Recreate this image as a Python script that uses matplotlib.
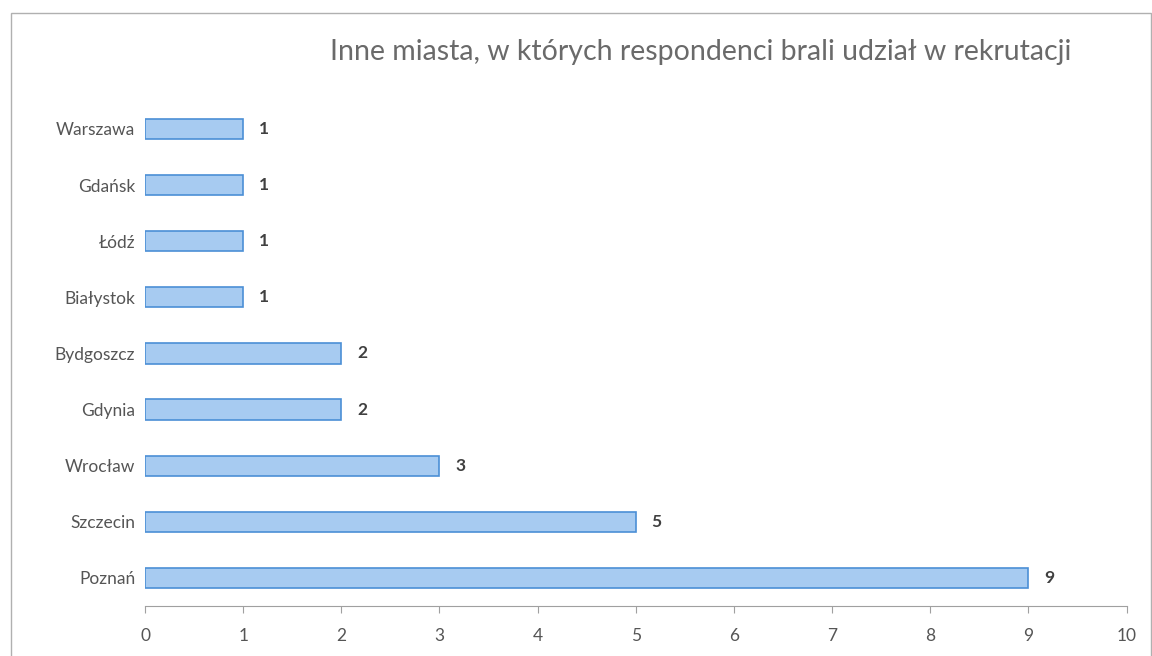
import matplotlib.pyplot as plt
from matplotlib.patches import Rectangle

plt.rcParams["font.family"] = ["Lato", "DejaVu Sans"]

cities = ["Poznań", "Szczecin", "Wrocław", "Gdynia", "Bydgoszcz",
          "Białystok", "Łódź", "Gdańsk", "Warszawa"]
counts = [9, 5, 3, 2, 2, 1, 1, 1, 1]
xticks = list(range(0, 11))

fig = plt.figure(figsize=(11.52, 6.56), dpi=100)
ax = fig.add_axes([0.1259, 0.0762, 0.852, 0.770])

ypos = range(len(cities))
ax.barh(ypos, counts, height=0.36, color="#a7cbf1", edgecolor="#4b8fd6",
        linewidth=1.2)

for y, v in zip(ypos, counts):
    ax.text(v + 0.16, y, str(v), va="center", ha="left", fontsize=12.5,
            fontweight="bold", color="#404040")

ax.set_xlim(0, 10)
ax.set_ylim(-0.5, len(cities) - 0.5)
ax.set_xticks(xticks)
ax.set_yticks(list(ypos))
ax.set_yticklabels(cities)

for s in ["top", "right", "left"]:
    ax.spines[s].set_visible(False)
ax.spines["bottom"].set_color("#a0a0a0")
ax.tick_params(axis="x", direction="out", length=5, color="#a0a0a0",
               labelsize=12.5, labelcolor="#555555", pad=11)
ax.tick_params(axis="y", length=0, labelsize=12.5, labelcolor="#555555", pad=7)

fig.text(0.608, 0.921, "Inne miasta, w których respondenci brali udział w rekrutacji",
         ha="center", va="center", fontsize=20.5, color="#6a6a6a")

# frame of the scanned chart area
fig.add_artist(Rectangle((0.0095, -0.05), 0.99, 1.03, transform=fig.transFigure,
                         fill=False, edgecolor="#b0b0b0", linewidth=1.0))

fig.savefig("out.png", dpi=100)
